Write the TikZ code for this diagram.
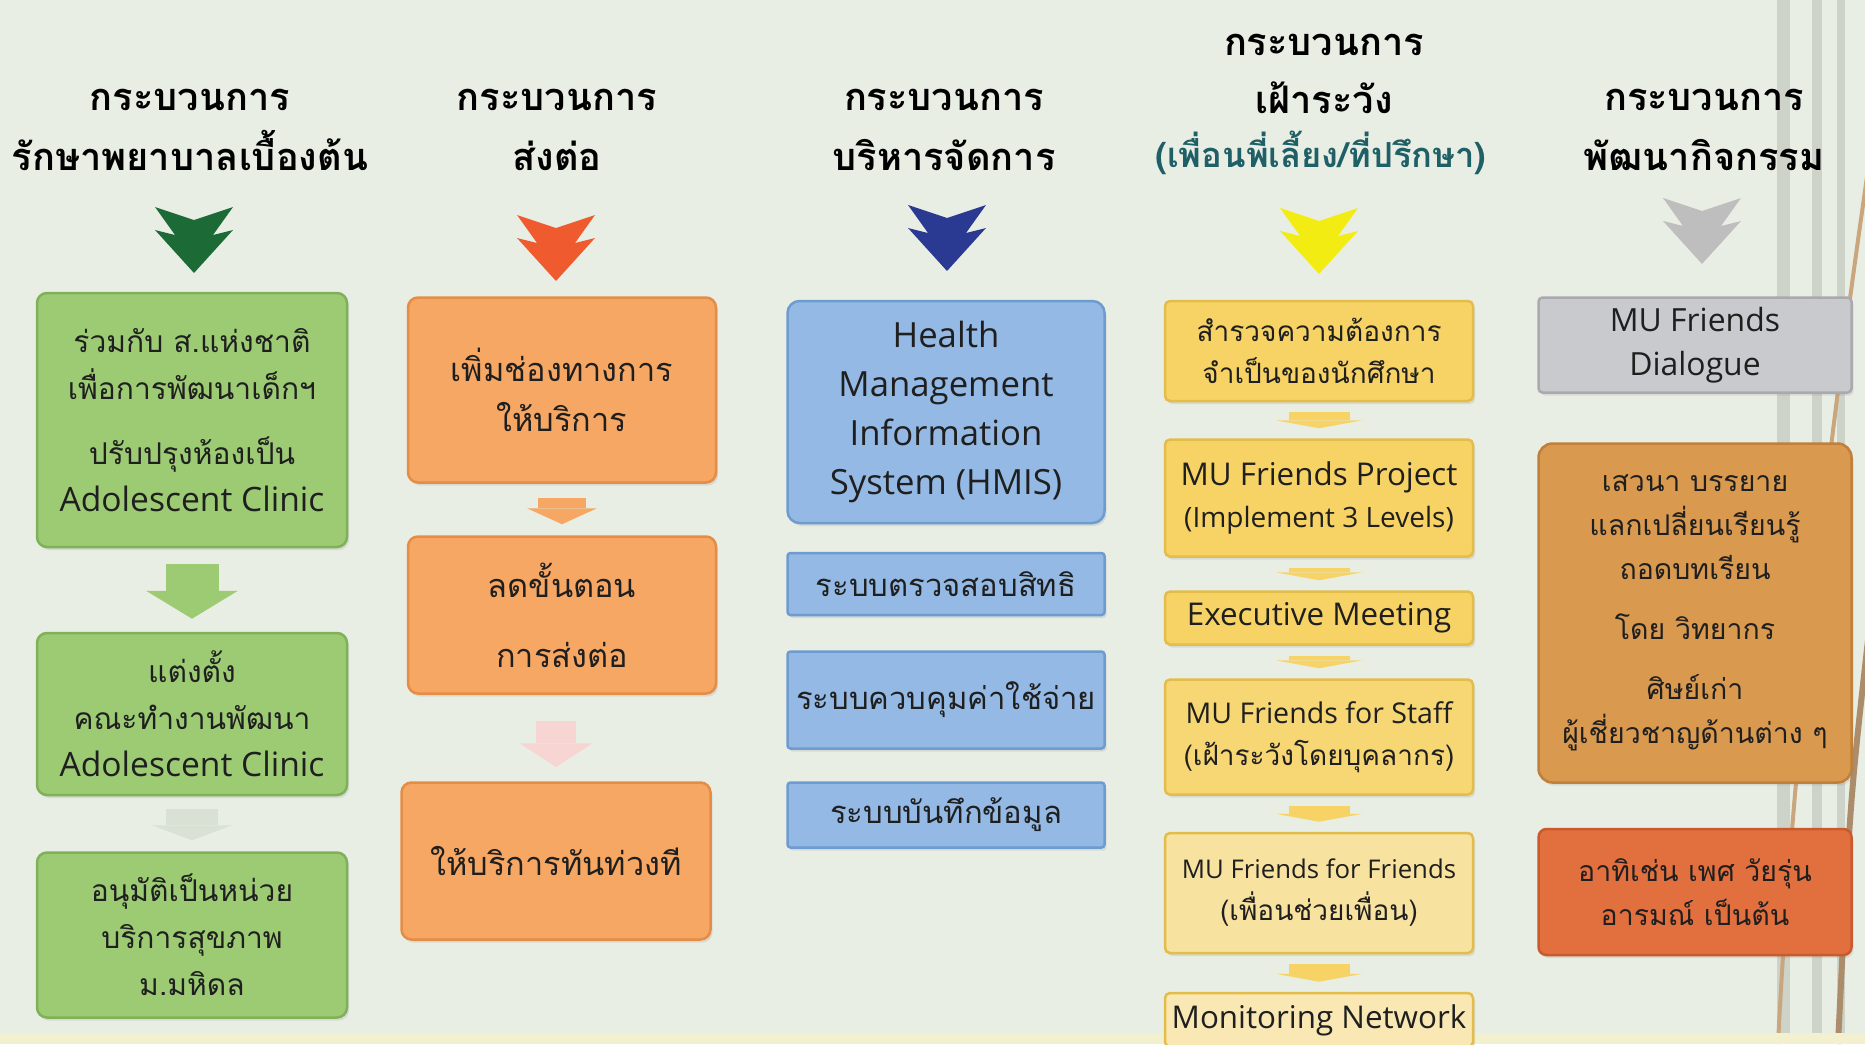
\documentclass[tikz,border=0pt]{standalone}
\usepackage{fontspec}
\setmainfont[Script=Thai]{Loma}
\newfontfamily\latinFont[Scale=1.12]{Open Sans}
\usetikzlibrary{arrows.meta,shadows}

\definecolor{bgColor}{HTML}{E9EEE5}
\definecolor{stripeGrey}{HTML}{CDD3C8}
\definecolor{stripeBrown}{HTML}{C9A67E}
\definecolor{stripCream}{HTML}{F3F0CF}
\definecolor{chevGreen}{HTML}{1C6B37}
\definecolor{chevOrange}{HTML}{EF5B2E}
\definecolor{chevBlue}{HTML}{2A3A93}
\definecolor{chevYellow}{HTML}{F3EC12}
\definecolor{chevGrey}{HTML}{BEBEBE}
\definecolor{tealText}{HTML}{1F5F66}
\definecolor{greenFill}{HTML}{9CCB74}
\definecolor{greenEdge}{HTML}{7FB158}
\definecolor{greenPale}{HTML}{D9E1D4}
\definecolor{orangeFill}{HTML}{F5A763}
\definecolor{orangeEdge}{HTML}{E58C45}
\definecolor{pinkPale}{HTML}{F7D5D3}
\definecolor{blueFill}{HTML}{94B9E4}
\definecolor{blueEdge}{HTML}{6E9BD0}
\definecolor{yellowFill}{HTML}{F7D365}
\definecolor{yellowEdge}{HTML}{E4BC4A}
\definecolor{yellowLight}{HTML}{F8E2A0}
\definecolor{greyFill}{HTML}{C9CACD}
\definecolor{greyEdge}{HTML}{A9AAAE}
\definecolor{brownFill}{HTML}{D9994F}
\definecolor{brownEdge}{HTML}{C07F3A}
\definecolor{redFill}{HTML}{E2703F}
\definecolor{redEdge}{HTML}{C95A2C}

\begin{document}
\begin{tikzpicture}[x=1pt, y=-1pt]
        \tikzstyle{headStyle} = [font=\fontsize{38}{44}\bfseries\selectfont, anchor=base, inner sep=0pt]
        \tikzstyle{boxStyle} = [draw, line width=2.5pt, align=center, inner sep=0pt, text=black!88,
                                drop shadow={opacity=0.18, shadow xshift=2pt, shadow yshift=-3pt}]
        \tikzstyle{greenBox} = [boxStyle, rounded corners=10pt, fill=greenFill, draw=greenEdge,
                                minimum width=310, font=\fontsize{30}{47}\selectfont]
        \tikzstyle{orangeBox} = [boxStyle, rounded corners=10pt, fill=orangeFill, draw=orangeEdge,
                                 minimum width=308, font=\fontsize{32.5}{50}\selectfont]
        \tikzstyle{blueBox} = [boxStyle, rounded corners=3pt, fill=blueFill, draw=blueEdge,
                               minimum width=317, font=\fontsize{31}{49}\selectfont]
        \tikzstyle{yellowBox} = [boxStyle, rounded corners=5pt, fill=yellowFill, draw=yellowEdge,
                                 minimum width=308, font=\fontsize{28}{42}\selectfont]
        \tikzstyle{colFiveBox} = [boxStyle, minimum width=313, font=\fontsize{28.5}{44}\selectfont]
        \tikzset{blockArrow/.style n args={4}{color=#4, line width=#1,
                 -{Triangle[width=#2, length=#3, line width=0pt]}}}

        % background and right-hand decoration
        \fill[bgColor] (0,0) rectangle (1865,1044);
        \useasboundingbox (0,0) rectangle (1865,1044);
        \foreach \sx/\sw in {1777/13, 1812/10, 1837/8}
            \fill[stripeGrey] (\sx,0) rectangle ++(\sw,1044);
        \draw[stripeBrown, line width=4pt] (1868,170) .. controls (1820,500) and (1790,800) .. (1778,1044);
        \draw[stripeBrown!85!black, line width=6pt] (1868,640) .. controls (1850,800) .. (1838,1044);
        \fill[stripCream] (0,1033) rectangle (1865,1044);

        % column headings
        \node[headStyle] (h1a) at (190,110) {กระบวนการ};
        \node[headStyle] (h1b) at (190,170) {รักษาพยาบาลเบื้องต้น};
        \node[headStyle] (h2a) at (557,110) {กระบวนการ};
        \node[headStyle] (h2b) at (557,170) {ส่งต่อ};
        \node[headStyle] (h3a) at (944,110) {กระบวนการ};
        \node[headStyle] (h3b) at (944,170) {บริหารจัดการ};
        \node[headStyle] (h4a) at (1324,55) {กระบวนการ};
        \node[headStyle] (h4b) at (1324,113) {เฝ้าระวัง};
        \node[headStyle, text=tealText, font=\fontsize{34.5}{40}\bfseries\selectfont] (h4c)
            at (1321,167) {(เพื่อนพี่เลี้ยง/ที่ปรึกษา)};
        \node[headStyle] (h5a) at (1704,110) {กระบวนการ};
        \node[headStyle] (h5b) at (1704,170) {พัฒนากิจกรรม};

        % double chevrons under the headings
        \foreach \cx/\cy/\col in {194/207/chevGreen, 556/215/chevOrange, 947/205/chevBlue,
                                  1319/208/chevYellow, 1702/198/chevGrey}
            \fill[\col, shift={(\cx,\cy)}] (-39,0) -- (0,13) -- (39,0) -- (19,28) -- (39,23)
                -- (0,66) -- (-39,23) -- (-19,28) -- cycle;

        % column 1
        \node[greenBox, minimum height=254] (g1) at (192,420)
            {ร่วมกับ ส.แห่งชาติ\\เพื่อการพัฒนาเด็กฯ\\[18pt]ปรับปรุงห้องเป็น\\{\latinFont Adolescent Clinic}};
        \node[greenBox, minimum height=162] (g2) at (192,714)
            {แต่งตั้ง\\คณะทำงานพัฒนา\\{\latinFont Adolescent Clinic}};
        \node[greenBox, minimum height=165] (g3) at (192,935)
            {อนุมัติเป็นหน่วย\\บริการสุขภาพ\\ม.มหิดล};

        % column 2
        \node[orangeBox, minimum height=185] (o1) at (562,390) {เพิ่มช่องทางการ\\ให้บริการ};
        \node[orangeBox, minimum height=157] (o2) at (562,615) {ลดขั้นตอน\\[20pt]การส่งต่อ};
        \node[orangeBox, minimum width=309, minimum height=157] (o3) at (556,861) {ให้บริการทันท่วงที};

        % column 3
        \node[blueBox, rounded corners=12pt, minimum height=222] (b1) at (946,412)
            {\latinFont Health\\\latinFont Management\\\latinFont Information\\\latinFont System (HMIS)};
        \node[blueBox, minimum height=62] (b2) at (946,584) {ระบบตรวจสอบสิทธิ};
        \node[blueBox, minimum height=97] (b3) at (946,700) {ระบบควบคุมค่าใช้จ่าย};
        \node[blueBox, minimum height=65] (b4) at (946,815) {ระบบบันทึกข้อมูล};

        % column 4
        \node[yellowBox, minimum height=100] (y1) at (1319,351) {สำรวจความต้องการ\\จำเป็นของนักศึกษา};
        \node[yellowBox, minimum height=117] (y2) at (1319,498)
            {{\latinFont MU Friends Project}\\{\latinFont\fontsize{25}{42}\selectfont (Implement 3 Levels)}};
        \node[yellowBox, minimum height=53] (y3) at (1319,618) {\latinFont Executive Meeting};
        \node[yellowBox, fill=yellowFill!75!yellowLight, minimum height=115] (y4) at (1319,737)
            {{\latinFont\fontsize{25.5}{42}\selectfont MU Friends for Staff}\\(เฝ้าระวังโดยบุคลากร)};
        \node[yellowBox, fill=yellowLight, minimum height=120] (y5) at (1319,893)
            {{\latinFont\fontsize{23}{42}\selectfont MU Friends for Friends}\\(เพื่อนช่วยเพื่อน)};
        \node[yellowBox, fill=yellowLight!80!white, minimum height=54] (y6) at (1319,1020)
            {\latinFont Monitoring Network};

        % column 5
        \node[colFiveBox, rounded corners=4pt, fill=greyFill, draw=greyEdge, minimum height=95] (c1)
            at (1695,345) {{\latinFont MU Friends}\\{\latinFont Dialogue}};
        \node[colFiveBox, rounded corners=14pt, fill=brownFill, draw=brownEdge, minimum height=339] (c2)
            at (1695,613) {เสวนา บรรยาย\\แลกเปลี่ยนเรียนรู้\\ถอดบทเรียน\\[16pt]โดย วิทยากร\\[16pt]ศิษย์เก่า\\ผู้เชี่ยวชาญด้านต่าง ๆ};
        \node[colFiveBox, rounded corners=8pt, fill=redFill, draw=redEdge, minimum height=126] (c3)
            at (1695,892) {อาทิเช่น เพศ วัยรุ่น\\อารมณ์ เป็นต้น};

        % block arrows between the boxes
        \path[blockArrow={53pt}{92pt}{28pt}{greenFill}, shorten <=16pt, shorten >=13pt] (g1) edge (g2);
        \path[blockArrow={52pt}{80pt}{15pt}{greenPale}, shorten <=13pt, shorten >=11pt] (g2) edge (g3);
        \path[blockArrow={48pt}{70pt}{16pt}{orangeFill}, shorten <=14pt, shorten >=11pt] (o1) edge (o2);
        \path[blockArrow={40pt}{73pt}{24pt}{pinkPale}, shorten <=26pt, shorten >=14pt]
            (o2.south -| o3.north) edge (o3.north);
        \foreach \from/\to in {y1/y2, y2/y3, y3/y4, y4/y5, y5/y6}
            \path[blockArrow={61pt}{87pt}{8pt}{yellowFill}, shorten <=10pt, shorten >=10pt] (\from) edge (\to);
\end{tikzpicture}
\end{document}
